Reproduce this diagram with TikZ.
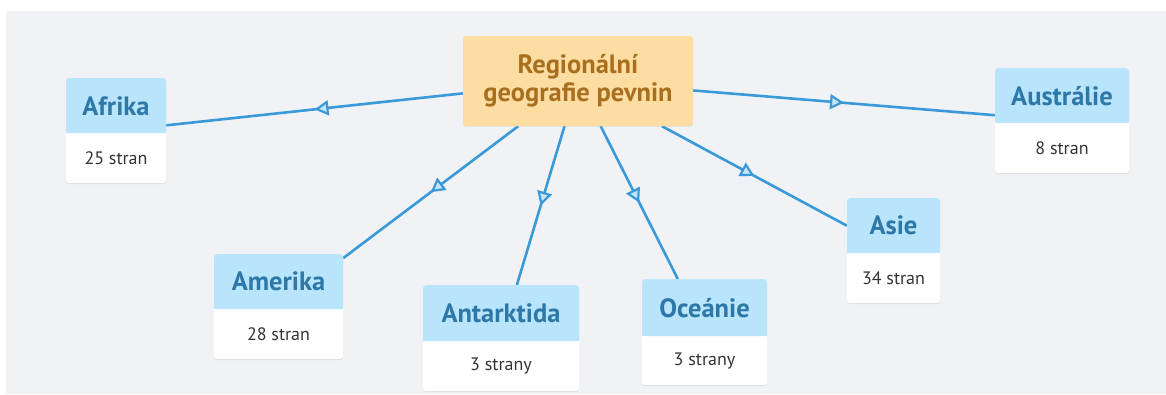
\documentclass[tikz,border=0pt]{standalone}
\usepackage{fontspec}
\setmainfont{PT Sans}
\usetikzlibrary{arrows.meta,decorations.markings,shadows}
\definecolor{bgc}{HTML}{F0F2F5}
\definecolor{hdrc}{HTML}{B8E4FC}
\definecolor{hdrtxt}{HTML}{2E78A8}
\definecolor{ctrfill}{HTML}{FEDDA3}
\definecolor{ctrtxt}{HTML}{A8701E}
\definecolor{edgec}{HTML}{3A9AD9}
\definecolor{arrfill}{HTML}{C4E4F8}
\definecolor{bodytxtc}{HTML}{333333}
\pgfdeclarelayer{back}
\pgfdeclarelayer{edges}
\pgfsetlayers{back,edges,main}
\tikzset{
  cardbox/.style={fill=white, rounded corners=3pt, inner sep=0pt,
    drop shadow={shadow xshift=0pt, shadow yshift=-1pt, opacity=0.18}},
  hdrbox/.style={fill=hdrc, rounded corners=3pt, inner sep=0pt},
  hdrtext/.style={text=hdrtxt, font=\fontsize{26.5}{30}\selectfont\bfseries, inner sep=0pt},
  bodytext/.style={text=bodytxtc, font=\fontsize{18}{22}\selectfont, inner sep=0pt},
  ctrbox/.style={fill=ctrfill, rounded corners=3pt, inner sep=0pt, align=center,
    text=ctrtxt, font=\fontsize{26.5}{28}\selectfont\bfseries,
    drop shadow={shadow xshift=0pt, shadow yshift=-1pt, opacity=0.12}},
  edge/.style={draw=edgec, line width=2.6pt,
    postaction={decorate, decoration={markings,
      mark=at position 0.5 with {\arrow{Triangle[fill=arrfill, length=14pt, width=15pt, line width=2.2pt]}}}}}
}
\newcommand{\cbox}[8]{%
  \node[cardbox, minimum width=#4, minimum height=#5+#6, anchor=north] (#1) at (#2,#3) {};
  \node[hdrbox, minimum width=#4, minimum height=#5, anchor=north] (#1h) at (#1.north) {};
  \fill[hdrc] ([yshift=4pt]#1h.south west) rectangle (#1h.south east);
  \node[hdrtext] (#1t) at (#1h.center) {#7};
  \node[bodytext] (#1b) at ([yshift=#6/2]#1.south) {#8};
}
\begin{document}
\begin{tikzpicture}[x=1pt,y=-1pt]
\useasboundingbox (0,0) rectangle (1166,394);
\begin{pgfonlayer}{back}
  \fill[bgc] (6,11) rectangle (1166,394);
\end{pgfonlayer}
\node[ctrbox, minimum width=230, minimum height=90] (c) at (578,81) {Regionální\\geografie pevnin};
\cbox{afr}{116}{78}{100}{55}{50}{Afrika}{25 stran}
\cbox{aus}{1062}{68}{134}{55}{50}{Austrálie}{8 stran}
\cbox{ame}{278.5}{254}{129}{55}{50}{Amerika}{28 stran}
\cbox{ant}{501}{285}{156}{56}{50}{Antarktida}{3 strany}
\cbox{oce}{704.5}{279}{125}{57}{49}{Oceánie}{3 strany}
\cbox{asi}{893.5}{198}{93}{55}{50}{Asie}{34 stran}
\begin{pgfonlayer}{edges}
  \draw[edge] (c) -- (afr);
  \draw[edge] (c) -- (aus);
  \draw[edge] (c) -- (ame);
  \draw[edge] (c) -- (ant);
  \draw[edge] (c) -- (oce);
  \draw[edge] (c) -- (asi);
\end{pgfonlayer}
\end{tikzpicture}
\end{document}
